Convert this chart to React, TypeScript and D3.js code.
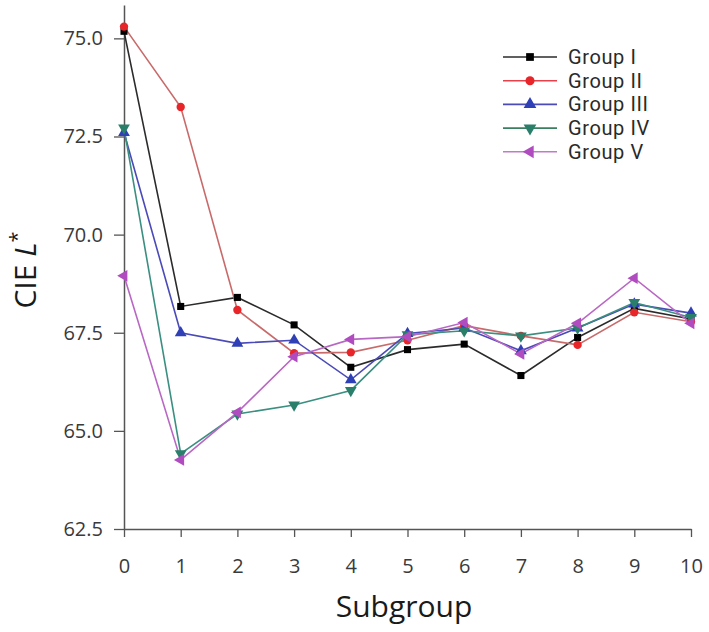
import React, { useEffect, useRef } from "react";
import * as d3 from "d3";

const subgroups = [0, 1, 2, 3, 4, 5, 6, 7, 8, 9, 10];
const groupNames = ["Group I", "Group II", "Group III", "Group IV", "Group V"];
const groupI = [75.18, 68.17, 68.4, 67.7, 66.62, 67.07, 67.21, 66.41, 67.38, 68.12, 67.85];
const groupII = [75.3, 73.25, 68.08, 66.98, 67.0, 67.31, 67.68, 67.42, 67.19, 68.02, 67.78];
const groupIII = [72.6, 67.5, 67.23, 67.31, 66.3, 67.48, 67.62, 67.04, 67.62, 68.23, 68.0];
const groupIV = [72.72, 64.42, 65.43, 65.66, 66.03, 67.45, 67.55, 67.42, 67.62, 68.27, 67.89];
const groupV = [68.95, 64.26, 65.47, 66.89, 67.33, 67.4, 67.76, 66.96, 67.74, 68.89, 67.74];
const yTicks = [62.5, 65.0, 67.5, 70.0, 72.5, 75.0];

const lineColors = ["#2b2b2b", "#c96a6a", "#4a4ab8", "#3a8f80", "#b967c4"];
const markerColors = ["#000000", "#e8262a", "#2f3fb5", "#2a7f6a", "#b04cc0"];
const legendLineColors = ["#2b2b2b", "#e8404a", "#4a4ab8", "#3a8060", "#c07ac8"];

export default function App() {
  const ref = useRef<SVGSVGElement>(null);

  useEffect(() => {
    const svg = d3.select(ref.current);
    svg.selectAll("*").remove();
    const x = d3.scaleLinear().domain([0, 10]).range([124, 691]);
    const y = d3.scaleLinear().domain([62.5, 75.85]).range([529, 5]);
    const series = [groupI, groupII, groupIII, groupIV, groupV];
    const font = "'Open Sans', sans-serif";

    const symbols = [
      { type: d3.symbolSquare, size: 50, rot: 0 },
      { type: d3.symbolCircle, size: 55, rot: 0 },
      { type: d3.symbolTriangle, size: 60, rot: 0 },
      { type: d3.symbolTriangle, size: 60, rot: 180 },
      { type: d3.symbolTriangle, size: 60, rot: -90 },
    ];

    // axes
    const yAxis = d3
      .axisLeft(y)
      .tickValues(yTicks)
      .tickFormat(d3.format(".1f"))
      .tickSizeInner(10)
      .tickSizeOuter(0)
      .tickPadding(11);
    const gy = svg.append("g").attr("transform", "translate(124,0)").call(yAxis);
    gy.select(".domain").attr("stroke", "#555").attr("stroke-width", 1.5);
    gy.selectAll(".tick line").attr("stroke", "#555").attr("stroke-width", 1.3);
    gy.selectAll(".tick text")
      .attr("fill", "#3a3a3a")
      .style("font-family", font)
      .style("font-size", "20px");

    const xAxis = d3
      .axisBottom(x)
      .tickValues(subgroups)
      .tickFormat(d3.format("d"))
      .tickSizeInner(8)
      .tickSizeOuter(0)
      .tickPadding(22);
    const gx = svg.append("g").attr("transform", "translate(0,529)").call(xAxis);
    gx.select(".domain").attr("stroke", "#555").attr("stroke-width", 1.5);
    gx.selectAll(".tick line").attr("stroke", "#555").attr("stroke-width", 1.3);
    gx.selectAll(".tick text")
      .attr("fill", "#3a3a3a")
      .attr("dy", 0)
      .attr("y", 44)
      .style("font-family", font)
      .style("font-size", "20px");

    // titles
    svg
      .append("text")
      .attr("x", 404)
      .attr("y", 617)
      .attr("text-anchor", "middle")
      .attr("fill", "#1a1a1a")
      .style("font-family", font)
      .style("font-size", "30px")
      .text("Subgroup");

    const yt = svg
      .append("text")
      .attr("transform", "translate(36,270) rotate(-90)")
      .attr("text-anchor", "middle")
      .attr("fill", "#1a1a1a")
      .style("font-family", font)
      .style("font-size", "30px");
    yt.append("tspan").text("CIE ");
    yt.append("tspan").attr("font-style", "italic").text("L");
    yt.append("tspan").attr("dy", -12).style("font-size", "20px").text("*");

    // lines
    const line = d3
      .line<number>()
      .x((_, i) => x(subgroups[i]))
      .y((d) => y(d));

    series.forEach((s, gi) => {
      svg
        .append("path")
        .datum(s)
        .attr("d", line)
        .attr("fill", "none")
        .attr("stroke", lineColors[gi])
        .attr("stroke-width", 1.6);
    });
    series.forEach((s, gi) => {
      const sym = symbols[gi];
      svg
        .append("g")
        .selectAll("path")
        .data(s)
        .join("path")
        .attr("d", d3.symbol().type(sym.type).size(sym.size)())
        .attr(
          "transform",
          (d, i) => `translate(${x(subgroups[i])},${y(d)}) rotate(${sym.rot})`
        )
        .attr("fill", markerColors[gi]);
    });

    // legend
    groupNames.forEach((name, gi) => {
      const cy = 57 + gi * 23.7;
      const g = svg.append("g");
      g.append("line")
        .attr("x1", 503)
        .attr("x2", 557)
        .attr("y1", cy)
        .attr("y2", cy)
        .attr("stroke", legendLineColors[gi])
        .attr("stroke-width", 1.6);
      const sym = symbols[gi];
      g.append("path")
        .attr("d", d3.symbol().type(sym.type).size(sym.size + 10)())
        .attr("transform", `translate(530,${cy}) rotate(${sym.rot})`)
        .attr("fill", markerColors[gi]);
      g.append("text")
        .attr("x", 568)
        .attr("y", cy + 7)
        .attr("fill", "#2a2a2a")
        .style("font-family", "Roboto, sans-serif")
        .style("font-size", "20px")
        .style("letter-spacing", "0.6px")
        .text(name);
    });
  }, []);

  return (
    <svg
      ref={ref}
      width={709}
      height={632}
      style={{ position: "absolute", left: 0, top: 0, background: "#fff" }}
    />
  );
}
